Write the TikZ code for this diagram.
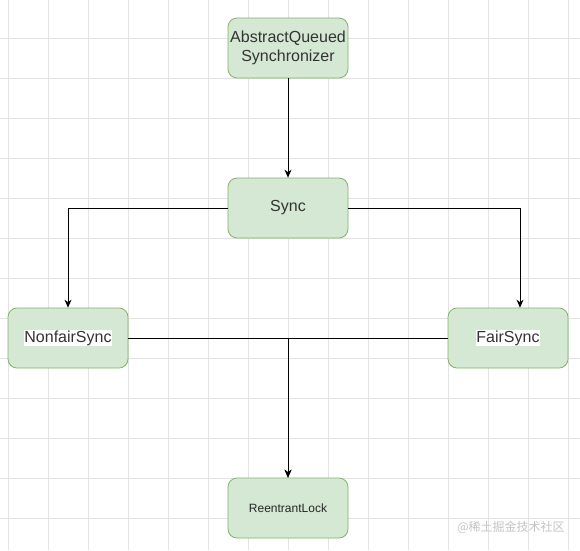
\documentclass[tikz,border=0pt]{standalone}
\usepackage{fontspec}
\setmainfont{Liberation Sans}
\newfontfamily\cjkfont{Noto Sans CJK SC}
\usetikzlibrary{arrows.meta}
\definecolor{boxfill}{HTML}{D5E8D4}
\definecolor{boxline}{HTML}{82B366}
\definecolor{gridc}{HTML}{E3E3E3}
\definecolor{txtc}{HTML}{333333}
\definecolor{wmark}{HTML}{C4C4C4}
\tikzset{
  classbox/.style={draw=boxline, fill=boxfill, rounded corners=9pt, line width=0.8pt,
    minimum width=120pt, minimum height=60pt, inner sep=0pt, text=txtc,
    font=\fontsize{16}{18.5}\selectfont, align=center},
  smallbox/.style={classbox, font=\fontsize{12}{14}\selectfont, text=black!85},
  conn/.style={draw=black, line width=0.8pt},
  arr/.style={conn, -{Stealth[length=8pt,width=7pt]}},
  gridline/.style={draw=gridc, line width=0.7pt}
}
\setlength\fboxsep{0.5pt}
\begin{document}
\begin{tikzpicture}[x=1pt,y=-1pt]
\useasboundingbox (0,0) rectangle (580,550);
\fill[white] (0,0) rectangle (580,550);
\foreach \gx in {8,48,...,568} \draw[gridline] (\gx,0) -- (\gx,550);
\foreach \gy in {38,78,...,518} \draw[gridline] (0,\gy) -- (580,\gy);

\node[classbox] (aqs) at (288,48) {AbstractQueued\\Synchronizer};
\node[classbox] (sync) at (288,208) {Sync};
\node[classbox] (nf) at (68,338) {\colorbox{white}{NonfairSync}};
\node[classbox] (fs) at (508,338) {\colorbox{white}{FairSync}};
\node[smallbox] (rl) at (288,508) {ReentrantLock};

\draw[arr] (aqs) -- (sync);
\draw[arr] (sync.west) -| (nf.north);
\draw[arr] (sync.east) -| ([xshift=12pt]fs.north);
\draw[arr] (nf.east) -| (rl.north);
\draw[arr] (fs.west) -| (rl.north);

\node[text=wmark, font=\cjkfont\fontsize{12}{14}\selectfont, inner sep=0pt] (wm) at (511,527) {@稀土掘金技术社区};
\end{tikzpicture}
\end{document}
